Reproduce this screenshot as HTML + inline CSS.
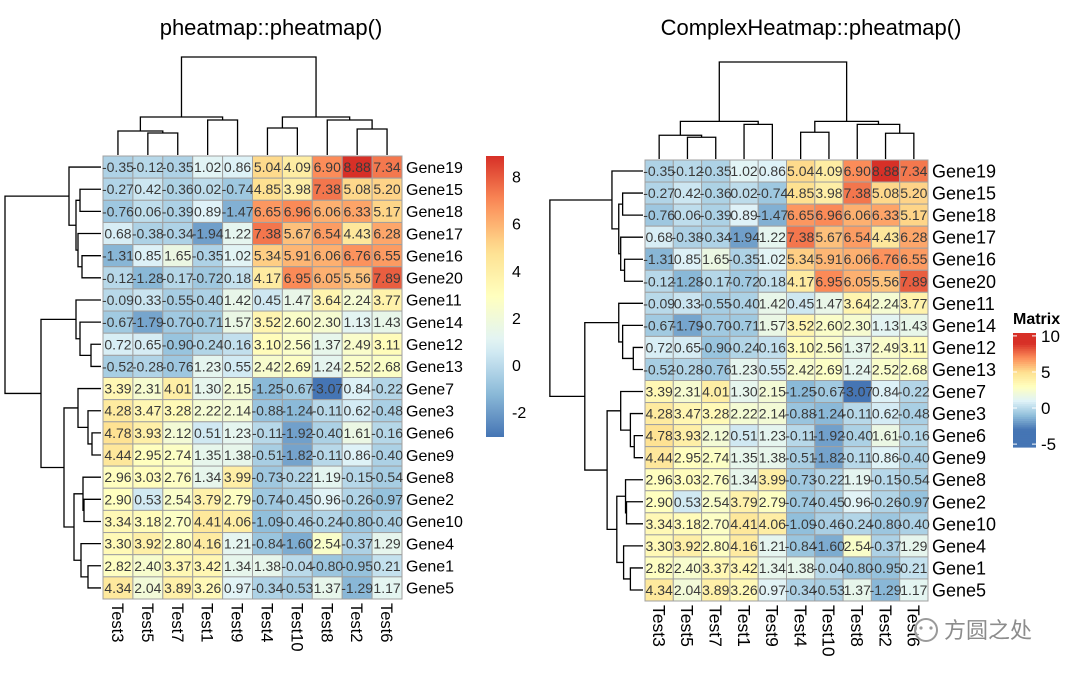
<!DOCTYPE html>
<html><head><meta charset="utf-8">
<style>
html,body{margin:0;padding:0;background:#fff;}
svg{display:block;font-family:"Liberation Sans","Noto Sans CJK SC",sans-serif;}
</style></head>
<body>
<svg id="chart" width="1080" height="675" viewBox="0 0 1080 675"></svg>
<script>
const genes = ["Gene19","Gene15","Gene18","Gene17","Gene16","Gene20","Gene11","Gene14","Gene12","Gene13","Gene7","Gene3","Gene6","Gene9","Gene8","Gene2","Gene10","Gene4","Gene1","Gene5"];
const tests = ["Test3","Test5","Test7","Test1","Test9","Test4","Test10","Test8","Test2","Test6"];
const values = [
[-0.35,-0.12,-0.35,1.02,0.86,5.04,4.09,6.90,8.88,7.34],
[-0.27,0.42,-0.36,0.02,-0.74,4.85,3.98,7.38,5.08,5.20],
[-0.76,0.06,-0.39,0.89,-1.47,6.65,6.96,6.06,6.33,5.17],
[0.68,-0.38,-0.34,-1.94,1.22,7.38,5.67,6.54,4.43,6.28],
[-1.31,0.85,1.65,-0.35,1.02,5.34,5.91,6.06,6.76,6.55],
[-0.12,-1.28,-0.17,-0.72,0.18,4.17,6.95,6.05,5.56,7.89],
[-0.09,0.33,-0.55,-0.40,1.42,0.45,1.47,3.64,2.24,3.77],
[-0.67,-1.79,-0.70,-0.71,1.57,3.52,2.60,2.30,1.13,1.43],
[0.72,0.65,-0.90,-0.24,0.16,3.10,2.56,1.37,2.49,3.11],
[-0.52,-0.28,-0.76,1.23,0.55,2.42,2.69,1.24,2.52,2.68],
[3.39,2.31,4.01,1.30,2.15,-1.25,-0.67,-3.07,0.84,-0.22],
[4.28,3.47,3.28,2.22,2.14,-0.88,-1.24,-0.11,0.62,-0.48],
[4.78,3.93,2.12,0.51,1.23,-0.11,-1.92,-0.40,1.61,-0.16],
[4.44,2.95,2.74,1.35,1.38,-0.51,-1.82,-0.11,0.86,-0.40],
[2.96,3.03,2.76,1.34,3.99,-0.73,-0.22,1.19,-0.15,-0.54],
[2.90,0.53,2.54,3.79,2.79,-0.74,-0.45,0.96,-0.26,-0.97],
[3.34,3.18,2.70,4.41,4.06,-1.09,-0.46,-0.24,-0.80,-0.40],
[3.30,3.92,2.80,4.16,1.21,-0.84,-1.60,2.54,-0.37,1.29],
[2.82,2.40,3.37,3.42,1.34,1.38,-0.04,-0.80,-0.95,0.21],
[4.34,2.04,3.89,3.26,0.97,-0.34,-0.53,1.37,-1.29,1.17]
];
// row tree: [left, right, height]
const rowTree = [[0,[[1,2,21],[3,[4,5,19],23],25],32],[[6,[7,[8,9,10],21],25],[[10,[11,[12,13,9],13],23],[[14,[15,16,17],18],[17,[18,19,13],20],27],37],60],96];
const colTree = [[[0,[1,2,22],24],[3,4,35],38],[[5,6,27],[7,[8,9,26],35],38],98];
const leftTicks = [8,6,4,2,0,-2];
const rightTicks = [10,5,0,-5];

const NS = "http://www.w3.org/2000/svg";
const svg = document.getElementById("chart");
function mk(tag, attrs, parent){const e=document.createElementNS(NS,tag);for(const k in attrs)e.setAttribute(k,attrs[k]);(parent||svg).appendChild(e);return e;}
const pal = ["#4575B4","#91BFDB","#E0F3F8","#FFFFBF","#FEE090","#FC8D59","#D73027"];
const flat = values.flat();
const vmin = Math.min(...flat), vmax = Math.max(...flat);
function hex(h){return [parseInt(h.slice(1,3),16),parseInt(h.slice(3,5),16),parseInt(h.slice(5,7),16)];}
function color(v){
  let t=(v-vmin)/(vmax-vmin);t=Math.max(0,Math.min(1,t));
  const p=t*(pal.length-1);const i=Math.min(Math.floor(p),pal.length-2);const f=p-i;
  const a=hex(pal[i]),b=hex(pal[i+1]);
  return "rgb("+a.map((x,k)=>Math.round(x+(b[k]-x)*f)).join(",")+")";
}

function drawPanel(cfg){
  const g = mk("g",{});
  
  
  const cw=(cfg.x1-cfg.x0)/tests.length, rh=(cfg.y1-cfg.y0)/genes.length;
  const t = mk("text",{x:cfg.titleX,y:35,"text-anchor":"middle","font-size":cfg.titleFont,fill:"#000"},g);
  t.textContent=cfg.title;
  
  
  values.forEach((row,r)=>row.forEach((v,c)=>{
    const rc = mk("rect",{x:cfg.x0+c*cw,y:cfg.y0+r*rh,width:cw,height:rh,fill:color(v),stroke:"#a0a0a0","stroke-width":1},g);
    
    
  }));
  values.forEach((row,r)=>row.forEach((v,c)=>{
    const tx = mk("text",{x:cfg.x0+(c+0.5)*cw,y:cfg.y0+(r+0.5)*rh+5,"text-anchor":"middle","font-size":cfg.cellFont,fill:"#3a3a3a"},g);
    tx.textContent=v.toFixed(2);
    
    
  }));
  genes.forEach((n,r)=>{
    const tx=mk("text",{x:cfg.x1+4,y:cfg.y0+(r+0.5)*rh+cfg.rowFont*0.36,"font-size":cfg.rowFont,fill:"#000"},g);
    tx.textContent=n;
    
    
  });
  tests.forEach((n,c)=>{
    const x=cfg.x0+(c+0.5)*cw-cfg.colFont*0.36, y=cfg.y1+4;
    const tx=mk("text",{x:x,y:y,"font-size":cfg.colFont,fill:"#000",transform:"rotate(90 "+x+" "+y+")"},g);
    tx.textContent=n;
    
    
  });
  let d="";
  function rowNode(n){
    if(typeof n==="number") return [cfg.y0+(n+0.5)*rh,0];
    const a=rowNode(n[0]), b=rowNode(n[1]), h=n[2];
    const X=v=>cfg.rx-v*cfg.rs;
    d+="M"+X(a[1])+" "+a[0]+"H"+X(h)+"V"+b[0]+"H"+X(b[1]);
    return [(a[0]+b[0])/2,h];
  }
  rowNode(rowTree);
  function colNode(n){
    if(typeof n==="number") return [cfg.x0+(n+0.5)*cw,0];
    const a=colNode(n[0]), b=colNode(n[1]), h=n[2];
    const Y=v=>cfg.cy-v*cfg.cs;
    d+="M"+a[0]+" "+Y(a[1])+"V"+Y(h)+"H"+b[0]+"V"+Y(b[1]);
    return [(a[0]+b[0])/2,h];
  }
  colNode(colTree);
  const p=mk("path",{d:d,fill:"none",stroke:"#000","stroke-width":1.3},g);
  
  
  return g;
}
drawPanel({name:"pheatmap-panel",title:"pheatmap::pheatmap()",titleX:271,titleFont:22,x0:103,x1:402,y0:156,y1:599,cellFont:14,rowFont:16,colFont:16.5,rx:101,rs:1,cy:155,cs:1});
drawPanel({name:"complexheatmap-panel",title:"ComplexHeatmap::pheatmap()",titleX:811,titleFont:22,x0:645,x1:928,y0:160,y1:601,cellFont:14,rowFont:18,colFont:17.5,rx:643,rs:0.97,cy:159,cs:0.99});

const lg=mk("g",{});


const defs=mk("defs",{});
const gr=mk("linearGradient",{id:"lgrad",x1:0,y1:1,x2:0,y2:0},defs);
for(let i=0;i<=20;i++){const v=vmin+(vmax-vmin)*i/20;mk("stop",{offset:(i/20),"stop-color":color(v)},gr);}
const lTop=156,lBot=437;
const lY=v=>lBot-(v-vmin)/(vmax-vmin)*(lBot-lTop);
mk("rect",{x:486,y:lTop,width:18,height:lBot-lTop,fill:"url(#lgrad)"},lg);
leftTicks.forEach(v=>{const t=mk("text",{x:512,y:lY(v)+6,"font-size":16,fill:"#000"},lg);t.textContent=v;

});

const rg=mk("g",{});


const rt=mk("text",{x:1013,y:324,"font-size":16,"font-weight":"bold",fill:"#000"},rg);rt.textContent="Matrix";
const rTop=333,rBot=447,rMin=-5.4,rMax=10.4;
const rY=v=>rBot-(v-rMin)/(rMax-rMin)*(rBot-rTop);
for(let i=0;i<60;i++){const v0=rMin+(rMax-rMin)*i/60;mk("rect",{x:1013,y:rY(v0+(rMax-rMin)/60),width:23,height:(rBot-rTop)/60+0.6,fill:color(v0)},rg);}
rightTicks.forEach(v=>{
  mk("line",{x1:1013,x2:1017,y1:rY(v),y2:rY(v),stroke:"#fff","stroke-width":1},rg);
  mk("line",{x1:1032,x2:1036,y1:rY(v),y2:rY(v),stroke:"#fff","stroke-width":1},rg);
  const t=mk("text",{x:1041,y:rY(v)+6,"font-size":17,fill:"#000"},rg);t.textContent=v;
  
  
});

const wm=mk("g",{});


mk("circle",{cx:926,cy:630,r:11,fill:"rgba(255,255,255,0.6)",stroke:"#9a9a9a","stroke-width":2},wm);
mk("circle",{cx:921,cy:628,r:1.6,fill:"#9a9a9a"},wm);
mk("circle",{cx:931,cy:628,r:1.6,fill:"#9a9a9a"},wm);
const wt=mk("text",{x:944,y:638,"font-size":22,fill:"#8c8c8c"},wm);wt.textContent="方圆之处";
</script>
</body></html>
